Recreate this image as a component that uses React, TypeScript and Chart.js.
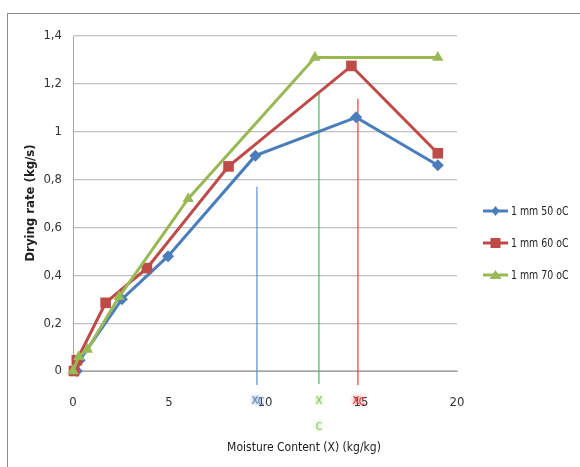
import React, { useEffect, useRef } from "react";
import { Chart, registerables } from "chart.js";

Chart.register(...registerables);

const FONT = "'Liberation Sans Narrow', 'DejaVu Sans Condensed', 'Open Sans', sans-serif";

const seriesNames = ["1 mm 50 oC", "1 mm 60 oC", "1 mm 70 oC"];
const seriesColors = ["#4A7EBB", "#BE4B48", "#98B954"];
const seriesMarkers = ["rectRot", "rect", "triangle"];

const blueX = [0.2, 0.35, 2.55, 4.95, 9.5, 14.75, 19.0];
const blueY = [0.0, 0.045, 0.3, 0.48, 0.9, 1.06, 0.86];
const redX = [0.05, 0.2, 1.7, 3.85, 8.1, 14.5, 19.0];
const redY = [0.0, 0.045, 0.285, 0.43, 0.855, 1.275, 0.91];
const greenX = [0.0, 0.3, 0.75, 2.4, 6.0, 12.6, 19.0];
const greenY = [0.0, 0.06, 0.09, 0.31, 0.72, 1.31, 1.31];

// critical moisture content markers (vertical lines)
const criticalX = [9.58, 12.81, 14.84];
const criticalTop = [0.77, 1.158, 1.1375];
const criticalBottom = [-0.058, -0.054, -0.058];
const criticalColors = ["#5B8FD0", "#3DBB5E", "#E0403A"];
const criticalLabelColors = ["#6A8CC4", "#8FD06A", "#E04848"];

const xTicks = [0, 5, 10, 15, 20];
const yTicks = [0, 0.2, 0.4, 0.6, 0.8, 1, 1.2, 1.4];

const xTitle = "Moisture Content (X) (kg/kg)";
const yTitle = "Drying rate (kg/s)";

function zip(xs: number[], ys: number[]) {
  return xs.map((x, i) => ({ x, y: ys[i] }));
}

function drawMarker(ctx: CanvasRenderingContext2D, kind: string, x: number, y: number, color: string) {
  ctx.save();
  ctx.fillStyle = color;
  ctx.beginPath();
  if (kind === "rectRot") {
    ctx.moveTo(x, y - 5);
    ctx.lineTo(x + 4, y);
    ctx.lineTo(x, y + 5);
    ctx.lineTo(x - 4, y);
  } else if (kind === "rect") {
    ctx.rect(x - 5, y - 5, 10, 10);
  } else {
    ctx.moveTo(x, y - 5);
    ctx.lineTo(x + 6, y + 4);
    ctx.lineTo(x - 6, y + 4);
  }
  ctx.closePath();
  ctx.fill();
  ctx.restore();
}

const decorPlugin = {
  id: "decor",
  beforeDraw(chart: any) {
    const ctx = chart.ctx as CanvasRenderingContext2D;
    ctx.save();
    ctx.fillStyle = "#ffffff";
    ctx.fillRect(0, 0, chart.width, chart.height);
    ctx.strokeStyle = "#8c8c8c";
    ctx.lineWidth = 1;
    ctx.strokeRect(7.5, 13.5, 580, 460);
    ctx.restore();
  },
  afterDraw(chart: any) {
    const ctx = chart.ctx as CanvasRenderingContext2D;
    const xs = chart.scales.x;
    ctx.save();
    // y title
    ctx.save();
    ctx.translate(31, 203);
    ctx.rotate(-Math.PI / 2);
    ctx.font = `bold 13px ${FONT}`;
    ctx.fillStyle = "#222";
    ctx.textAlign = "center";
    ctx.textBaseline = "middle";
    ctx.fillText(yTitle, 0, 0);
    ctx.restore();
    // x title
    ctx.font = `12px ${FONT}`;
    ctx.fillStyle = "#1a1a1a";
    ctx.textAlign = "center";
    ctx.textBaseline = "middle";
    ctx.fillText(xTitle, 304, 448);

    // critical labels
    ctx.font = `14px ${FONT}`;
    ctx.shadowBlur = 4;
    criticalX.forEach((cx, i) => {
      const px = xs.getPixelForValue(cx);
      ctx.fillStyle = criticalLabelColors[i];
      ctx.shadowColor = criticalLabelColors[i];
      if (i === 1) {
        ctx.fillText("x", px, 400);
        ctx.fillText("c", px, 426);
      } else {
        ctx.fillText("x", px - 2, 400);
        ctx.fillText("c", px + 4, 401);
      }
    });
    ctx.shadowBlur = 0;

    // legend
    ctx.font = `12px ${FONT}`;
    ctx.textAlign = "left";
    ctx.textBaseline = "middle";
    seriesNames.forEach((name, i) => {
      const y = 211 + i * 32;
      ctx.strokeStyle = seriesColors[i];
      ctx.lineWidth = 3;
      ctx.beginPath();
      ctx.moveTo(483, y);
      ctx.lineTo(508, y);
      ctx.stroke();
      drawMarker(ctx, seriesMarkers[i], 495.5, y, seriesColors[i]);
      ctx.fillStyle = "#222";
      ctx.save();
      ctx.translate(511, y + 1);
      ctx.scale(0.87, 1);
      ctx.fillText(name, 0, 0);
      ctx.restore();
    });
    ctx.restore();
  },
};

export default function App() {
  const ref = useRef<HTMLCanvasElement | null>(null);
  useEffect(() => {
    if (!ref.current) return;
    const seriesData = [zip(blueX, blueY), zip(redX, redY), zip(greenX, greenY)];
    const datasets: any[] = seriesData.map((d, i) => ({
      label: seriesNames[i],
      data: d,
      borderColor: seriesColors[i],
      backgroundColor: seriesColors[i],
      borderWidth: 3,
      pointStyle: seriesMarkers[i],
      pointRadius: i === 0 ? 6 : i === 1 ? 7.5 : 6.5,
      pointBorderWidth: 0,
      showLine: true,
      clip: false,
      order: 3 - i,
    }));
    criticalX.forEach((cx, i) => {
      datasets.push({
        label: "xc" + i,
        data: [
          { x: cx, y: criticalBottom[i] },
          { x: cx, y: criticalTop[i] },
        ],
        borderColor: criticalColors[i],
        borderWidth: 1.2,
        pointRadius: 0,
        showLine: true,
        clip: false,
        order: 10,
      });
    });
    const chart = new Chart(ref.current, {
      type: "scatter",
      data: { datasets },
      options: {
        animation: false,
        responsive: false,
        layout: { padding: { left: 0, top: 36, right: 123, bottom: 0 } },
        plugins: { legend: { display: false }, tooltip: { enabled: false } },
        scales: {
          x: {
            type: "linear",
            min: 0,
            max: 20,
            afterBuildTicks: (s: any) => {
              s.ticks = xTicks.map((v) => ({ value: v }));
            },
            afterFit: (s: any) => {
              s.height = 96;
            },
            grid: { display: false, drawTicks: false },
            border: { display: true, color: "#a6a6a6" },
            ticks: {
              padding: 24,
              color: "#333",
              font: { family: FONT, size: 13 },
              maxRotation: 0,
              callback: (v: any) => String(v),
            },
          },
          y: {
            type: "linear",
            min: 0,
            max: 1.4,
            afterBuildTicks: (s: any) => {
              s.ticks = yTicks.map((v) => ({ value: v }));
            },
            afterFit: (s: any) => {
              s.width = 73;
            },
            grid: { color: "#c0c0c0", lineWidth: 1.2, drawTicks: false },
            border: { display: true, color: "#a6a6a6" },
            ticks: {
              padding: 11,
              color: "#333",
              font: { family: FONT, size: 13 },
              callback: (v: any) => String(Math.round(Number(v) * 10) / 10).replace(".", ","),
            },
          },
        },
      },
      plugins: [decorPlugin],
    });
    return () => chart.destroy();
  }, []);
  return (
    <div style={{ position: "absolute", left: 0, top: 0, width: 580, height: 467 }}>
      <canvas ref={ref} width={580} height={467} />
    </div>
  );
}
